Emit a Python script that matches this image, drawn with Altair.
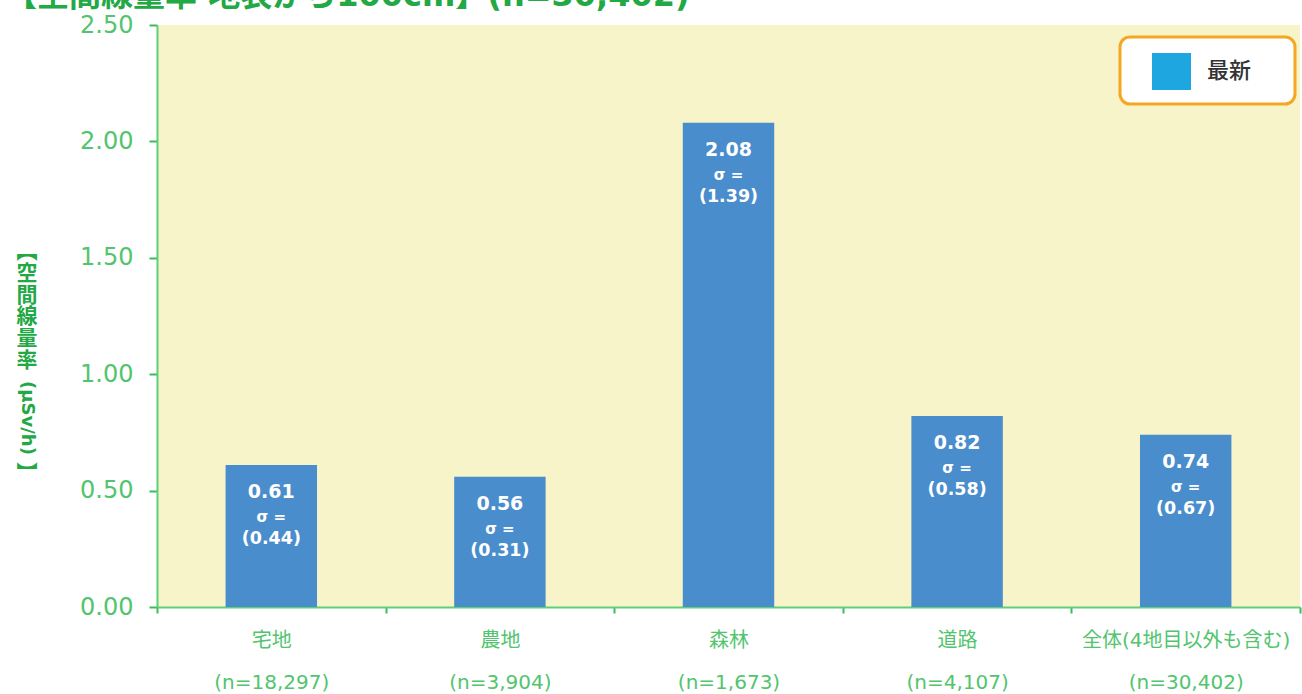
import altair as alt
import pandas as pd

# 地目別の空間線量率(地表から100cm)
categories = ["宅地", "農地", "森林", "道路", "全体(4地目以外も含む)"]
counts = ["18,297", "3,904", "1,673", "4,107", "30,402"]
means = [0.61, 0.56, 2.08, 0.82, 0.74]
sigmas = [0.44, 0.31, 1.39, 0.58, 0.67]
y_ticks = [0.0, 0.5, 1.0, 1.5, 2.0, 2.5]

title_text = "【空間線量率 地表から100cm】(n=30,402)"
legend_label = "最新"

GREEN = "#3dbb5c"
GREEN_LIGHT = "#52c46e"
GREEN_DARK = "#22a845"
BAR = "#4a8dcc"
JP = "Noto Sans CJK JP"
MIX = "DejaVu Sans, Noto Sans CJK JP"

df = pd.DataFrame({
    "cat": [f"{c}|(n={n})" for c, n in zip(categories, counts)],
    "mean": means,
    "mean_label": [f"{m:.2f}" for m in means],
    "sigma_label": [f"({s:.2f})" for s in sigmas],
})

# 帯は全幅、棒はその4割の幅で中央に置き、目盛は帯の境界に打つ
x = alt.X(
    "cat:N", sort=None,
    scale=alt.Scale(paddingInner=0, paddingOuter=0),
    axis=alt.Axis(
        title=None, labelAngle=0, labelExpr="split(datum.label, '|')",
        labelLineHeight=42, labelFont=MIX, labelFontSize=20, labelColor=GREEN_LIGHT,
        labelPadding=17, labelLimit=400, labelBaseline="top",
        tickBand="extent", tickSize=6, tickColor=GREEN, tickWidth=2,
        domainColor="#5ccf7a", domainWidth=2, grid=False,
    ),
)
y = alt.Y(
    "mean:Q",
    scale=alt.Scale(domain=[0, 2.5], nice=False),
    axis=alt.Axis(
        title=None, values=y_ticks, format=".2f", labelFont="DejaVu Sans",
        labelFontSize=24, labelColor=GREEN_LIGHT, labelPadding=16,
        tickSize=8, tickColor=GREEN, tickWidth=2,
        domainColor="#5ccf7a", domainWidth=2, grid=False,
    ),
)

base = alt.Chart(df)
bars = base.mark_bar(color=BAR, width=alt.RelativeBandSize(0.4)).encode(x=x, y=y)

value_text = base.mark_text(
    font="DejaVu Sans", fontSize=19, fontWeight="bold", color="white", dy=27, baseline="middle"
).encode(x=x, y=y, text="mean_label:N")
sigma_eq = base.mark_text(
    font="DejaVu Sans", fontSize=15, fontWeight="bold", color="white", dy=52, baseline="middle"
).encode(x=x, y=y, text=alt.value("σ ="))
sigma_text = base.mark_text(
    font="DejaVu Sans", fontSize=17.5, fontWeight="bold", color="white", dy=74, baseline="middle"
).encode(x=x, y=y, text="sigma_label:N")

one = alt.Chart(alt.Data(values=[{"k": 1}]))

# 凡例
legend_box = one.mark_rect(
    fill="white", stroke="#f5a623", strokeWidth=3, cornerRadius=10
).encode(x=alt.value(963), x2=alt.value(1138), y=alt.value(12), y2=alt.value(79))
legend_swatch = one.mark_rect(fill="#1ea6e0").encode(
    x=alt.value(995), x2=alt.value(1034), y=alt.value(28), y2=alt.value(65)
)
legend_text = one.mark_text(
    font=JP, fontSize=22, fontWeight=500, color="#333333", align="left", baseline="middle"
).encode(x=alt.value(1050), y=alt.value(46), text=alt.value(legend_label))

# 縦書きの軸タイトル
ytitle_cjk = one.mark_text(
    font=JP, fontSize=21, fontWeight="bold", color=GREEN_DARK,
    baseline="middle", lineHeight=21.8,
).encode(x=alt.value(-130), y=alt.value(227),
         text=alt.value(["︻", "空", "間", "線", "量", "率"]))
ytitle_unit = one.mark_text(
    font=MIX, fontSize=18, fontWeight="bold", color=GREEN_DARK,
    baseline="middle", align="center", angle=90,
).encode(x=alt.value(-130), y=alt.value(393), text=alt.value("(μSv/h)"))
ytitle_end = one.mark_text(
    font=JP, fontSize=21, fontWeight="bold", color=GREEN_DARK, baseline="middle",
).encode(x=alt.value(-130), y=alt.value(449), text=alt.value("︼"))

title = one.mark_text(
    font=MIX, fontSize=32, fontWeight="bold", color=GREEN_DARK,
    align="left", baseline="alphabetic",
).encode(x=alt.value(-152), y=alt.value(-19), text=alt.value(title_text))

chart = alt.layer(
    bars, value_text, sigma_eq, sigma_text,
    legend_box, legend_swatch, legend_text,
    ytitle_cjk, ytitle_unit, ytitle_end, title,
).properties(
    width=1143, height=582,
    autosize=alt.AutoSizeParams(type="none"),
    padding={"left": 157, "top": 25, "right": 2, "bottom": 87},
    background="white",
).configure_view(
    fill="#f6f4c8", stroke=None
)

chart.save("out.html", embed_options={"renderer": "svg", "actions": False})
